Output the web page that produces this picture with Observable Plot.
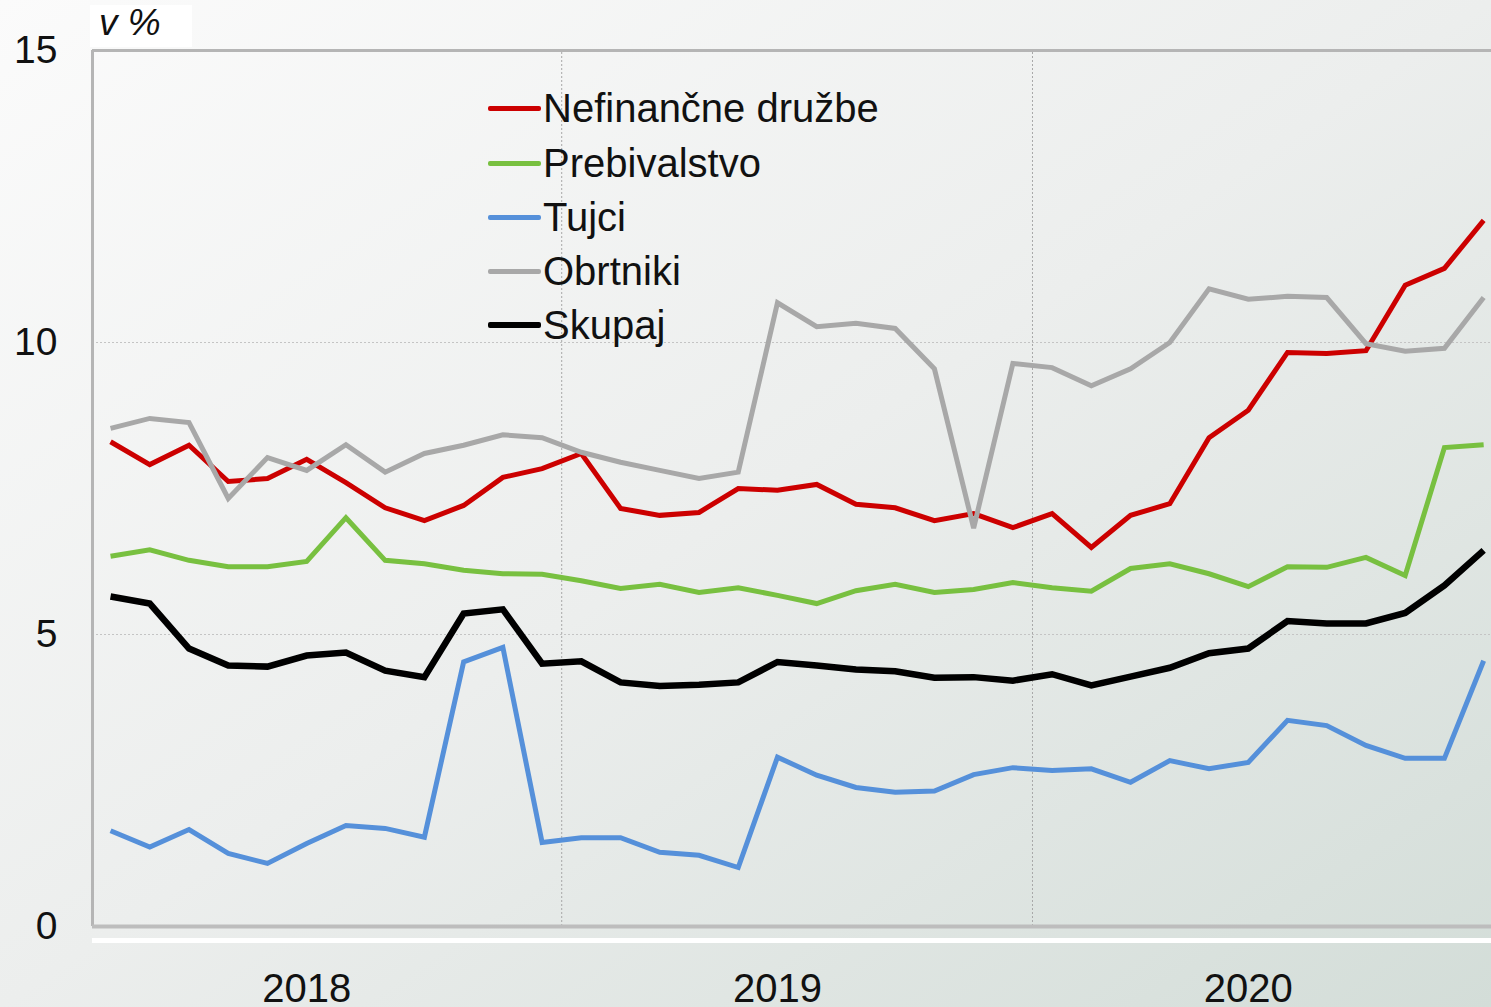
<!DOCTYPE html>
<html>
<head>
<meta charset="utf-8">
<script src="https://cdn.jsdelivr.net/npm/d3@7"></script>
<script src="https://cdn.jsdelivr.net/npm/@observablehq/plot@0.6"></script>
<style>
  html, body { margin: 0; padding: 0; }
  body { width: 1491px; height: 1007px; overflow: hidden; font-family: "Liberation Sans", Arial, sans-serif; }
  #wrap { position: relative; width: 1491px; height: 1007px;
    background: linear-gradient(to bottom right, #fbfbfb 0%, #eceeed 50%, #d3ddd8 100%); }
  #chart { position: absolute; left: 0; top: 0; }
  #unit { position: absolute; left: 90px; top: 5px; width: 102px; height: 42px; background: #fff;
    font-style: italic; font-size: 37px; line-height: 42px; color: #111; }
  #unit span { position: absolute; left: 9px; top: -3px; }
  #legend { position: absolute; left: 488px; top: 0; }
  .row { position: absolute; left: 0; height: 44px; display: flex; align-items: center; white-space: nowrap; }
  .sw { width: 53px; height: 5px; border-radius: 2px; margin-right: 2px; }
  .lbl { font-size: 40px; line-height: 44px; color: #111; }
</style>
</head>
<body>
<div id="wrap">
  <div id="chart"></div>
  <div id="unit"><span>v %</span></div>
  <div id="legend"></div>
</div>
<script>
// Months Jan 2018 – Dec 2020
const months = [
  "2018-01","2018-02","2018-03","2018-04","2018-05","2018-06","2018-07","2018-08","2018-09","2018-10","2018-11","2018-12",
  "2019-01","2019-02","2019-03","2019-04","2019-05","2019-06","2019-07","2019-08","2019-09","2019-10","2019-11","2019-12",
  "2020-01","2020-02","2020-03","2020-04","2020-05","2020-06","2020-07","2020-08","2020-09","2020-10","2020-11","2020-12"
];
const seriesNames = ["Nefinančne družbe", "Prebivalstvo", "Tujci", "Obrtniki", "Skupaj"];
const seriesColors = ["#cc0000", "#78c040", "#5590da", "#a8a8a8", "#000000"];

const nefinancne = [8.30,7.91,8.24,7.62,7.67,8.00,7.60,7.17,6.95,7.21,7.69,7.84,
                    8.10,7.16,7.04,7.09,7.50,7.47,7.57,7.23,7.17,6.95,7.07,6.83,
                    7.07,6.49,7.04,7.24,8.37,8.84,9.83,9.81,9.86,10.98,11.27,12.09];
const prebivalstvo = [6.34,6.45,6.27,6.16,6.16,6.25,7.00,6.27,6.21,6.10,6.04,6.03,
                      5.92,5.79,5.86,5.72,5.80,5.67,5.53,5.75,5.86,5.72,5.77,5.89,
                      5.80,5.74,6.13,6.21,6.04,5.82,6.16,6.15,6.32,6.01,8.20,8.25];
const tujci = [1.64,1.36,1.66,1.25,1.08,1.42,1.73,1.68,1.53,4.53,4.78,1.44,
               1.52,1.52,1.27,1.22,1.01,2.90,2.59,2.38,2.30,2.32,2.60,2.72,
               2.67,2.70,2.47,2.84,2.70,2.81,3.53,3.44,3.10,2.88,2.88,4.55];
const obrtniki = [8.53,8.70,8.63,7.33,8.03,7.81,8.25,7.78,8.10,8.24,8.42,8.37,
                  8.12,7.95,7.81,7.67,7.78,10.68,10.27,10.33,10.24,9.55,6.82,9.64,
                  9.57,9.26,9.55,10.00,10.92,10.74,10.79,10.77,9.98,9.85,9.90,10.77];
const skupaj = [5.65,5.53,4.76,4.47,4.45,4.64,4.69,4.38,4.27,5.36,5.43,4.50,
                4.54,4.18,4.12,4.14,4.18,4.53,4.47,4.40,4.37,4.26,4.27,4.21,
                4.32,4.13,4.28,4.43,4.68,4.76,5.23,5.19,5.19,5.37,5.84,6.44];

const yTicks = [0, 5, 10, 15];
const yearLabels = ["2018", "2019", "2020"];

const allSeries = [nefinancne, prebivalstvo, tujci, obrtniki, skupaj];
const widths = [5, 5, 5, 5, 6.5];

const rows = [];
allSeries.forEach((vals, s) => vals.forEach((v, i) => rows.push({series: seriesNames[s], i, month: months[i], value: v})));

// x index positions: first month of each year and mid-year label position
const yearStartIdx = yearLabels.map(y => months.indexOf(y + "-01"));
const yearLabelIdx = yearLabels.map(y => months.indexOf(y + "-06"));
const yearBoundaries = yearStartIdx.slice(1).map(i => i - 0.5);

const xDomain = [-0.46, 35.2];

const lineMarks = seriesNames.map((name, s) =>
  Plot.line(rows.filter(r => r.series === name), {
    x: "i", y: "value", stroke: seriesColors[s], strokeWidth: widths[s],
    strokeLinejoin: "miter", strokeMiterlimit: 4, strokeLinecap: "butt"
  })
);

const chart = Plot.plot({
  width: 1491,
  height: 1007,
  marginLeft: 92, marginRight: 0, marginTop: 50, marginBottom: 81,
  style: { background: "transparent", fontFamily: "'Liberation Sans', Arial, sans-serif", color: "#111", overflow: "visible" },
  x: { type: "linear", domain: xDomain, axis: null },
  y: { domain: [0, 15], axis: null },
  marks: [
    Plot.gridY([5, 10], { stroke: "#c4c4c4", strokeOpacity: 1, strokeDasharray: "2,2" }),
    Plot.ruleX(yearBoundaries, { y1: 0, y2: 15, stroke: "#a8a8a8", strokeDasharray: "2,2" }),
    Plot.ruleX([xDomain[0]], { y1: 0, y2: 15, stroke: "#b5b5b5", strokeWidth: 3 }),
    Plot.ruleY([15], { stroke: "#b5b5b5", strokeWidth: 3 }),
    Plot.ruleY([0], { stroke: "#bdbdbd", strokeWidth: 4 }),
    Plot.ruleY([0], { stroke: "#ffffff", strokeWidth: 5, dy: 14 }),
    Plot.axisY(yTicks, { tickSize: 0, tickPadding: 35, fontSize: 39, fill: "#111",
      label: null, tickFormat: d => String(d) }),
    Plot.axisX(yearLabelIdx, { tickSize: 0, tickPadding: 47, fontSize: 40, fill: "#111",
      label: null, tickFormat: d => yearLabels[yearLabelIdx.indexOf(d)] }),
    ...lineMarks
  ]
});
document.getElementById("chart").appendChild(chart);

// Legend (HTML overlay)
const legend = document.getElementById("legend");
const rowCenters = [108, 163, 217, 271, 325];
const legendWidths = [5, 5, 5, 5, 6];
seriesNames.forEach((name, s) => {
  const row = document.createElement("div");
  row.className = "row";
  row.style.top = (rowCenters[s] - 22) + "px";
  const sw = document.createElement("div");
  sw.className = "sw";
  sw.style.background = seriesColors[s];
  sw.style.height = legendWidths[s] + "px";
  const lbl = document.createElement("span");
  lbl.className = "lbl";
  lbl.textContent = name;
  row.appendChild(sw);
  row.appendChild(lbl);
  legend.appendChild(row);
});
</script>
</body>
</html>
